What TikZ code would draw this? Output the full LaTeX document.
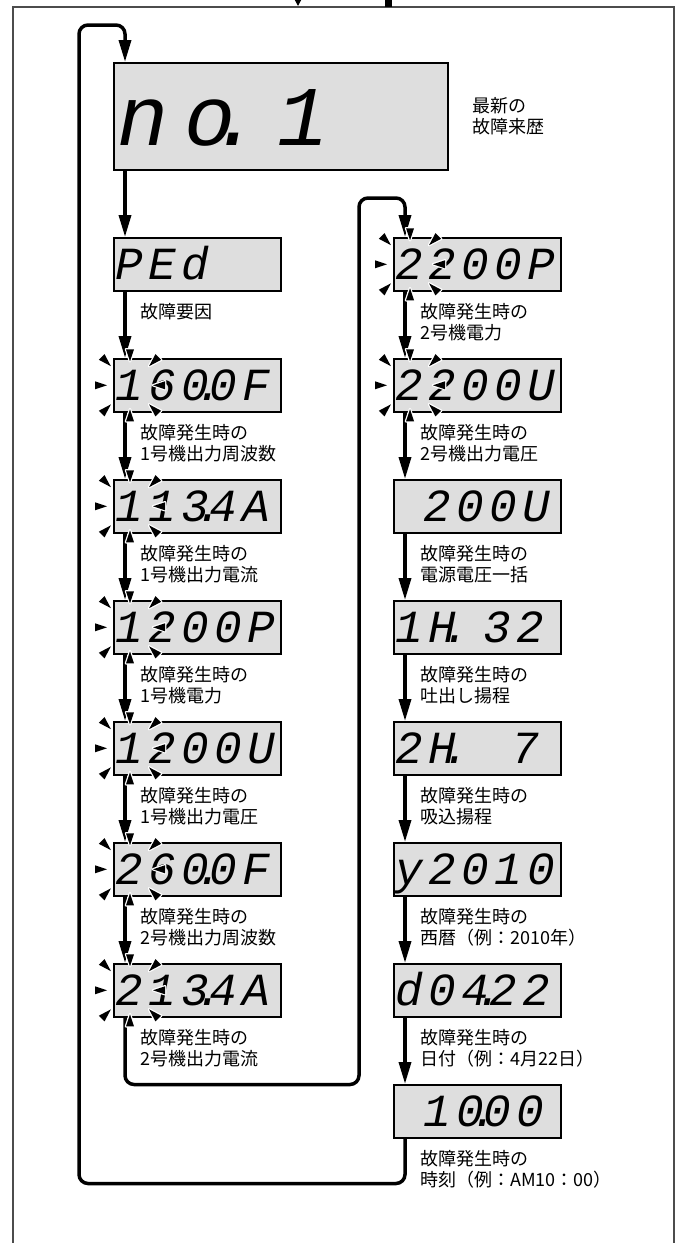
\documentclass[tikz,border=0pt]{standalone}
\usepackage{fontspec}
\setmainfont{Noto Sans CJK JP}
\newfontfamily\segfont{Liberation Mono}[LetterSpace=11.7]
\newfontfamily\bigsegfont{Liberation Mono}[LetterSpace=18.8]
\usetikzlibrary{arrows.meta,positioning,calc}
\definecolor{lcdgray}{gray}{0.87}
\definecolor{framegray}{gray}{0.3}
\newcommand\segdot{\makebox[0pt]{.}}
\newcommand\segblank{\phantom{0}}
% blinking rays round the first digit of a display
\newcommand\blinkat[1]{%
  \begin{scope}[shift={([xshift=17pt]#1.west)}]
  \foreach \a/\ri/\ro in {0/23/35,45/27/40,90/24/36,135/27/40,180/23/35,225/27/40,270/24/36,315/27/40}{
    \draw[white, line width=2.5pt, line join=round, rotate=\a] (\ri,0) -- (\ro,4) -- (\ro,-4) -- cycle;
    \fill[black, rotate=\a] (\ri,0) -- (\ro,4) -- (\ro,-4) -- cycle;}
  \end{scope}}

\begin{document}
\begin{tikzpicture}[x=1pt, y=1pt,
  disp/.style={draw, line width=1.5pt, fill=lcdgray, minimum width=167pt,
               minimum height=53pt, text width=163pt, inner xsep=2pt, inner ysep=0pt,
               align=left, text height=31pt, text depth=0pt,
               font=\segfont\itshape\fontsize{46}{46}\selectfont},
  bigdisp/.style={disp, minimum width=334pt, minimum height=107pt, text width=326pt,
                  inner xsep=4pt, text height=58pt,
                  font=\bigsegfont\itshape\fontsize{85}{85}\selectfont},
  note/.style={anchor=north west, align=left, inner sep=0pt,
               font=\fontsize{18}{21}\selectfont},
  flow/.style={line width=3.5pt, -{Triangle[length=22pt,width=12pt]}, rounded corners=9pt},
  frame/.style={draw=framegray, line width=1.2pt}]
\useasboundingbox (0,0) rectangle (682,-1243);
\draw[frame] (13,-1243) -- (13,-7) -- (674,-7) -- (674,-1243);
\coordinate (instub) at (298,0);
\coordinate (instubend) at (298,-6);
\coordinate (outstub) at (388,0);
\coordinate (outstubend) at (388,-7);
\draw[line width=1.2pt, -{Triangle[length=6pt,width=6pt]}] (instub) -- (instubend);
\draw[line width=7pt] (outstub) -- (outstubend);

\node[bigdisp, anchor=north west] (nodisp) at (113,-62) {no\segdot\hspace{42pt}1};
\node[note, right=24pt of nodisp] (nodispn) {最新の\\故障来歴};

\node[disp, anchor=north west] (ped) at (113,-237) {PEd};
\node[disp, below=66.5pt of ped] (lfreq) {160\segdot0F};
\node[disp, below=66.5pt of lfreq] (lcur) {113\segdot4A};
\node[disp, below=66.5pt of lcur] (lpow) {1200P};
\node[disp, below=66.5pt of lpow] (lvolt) {1200U};
\node[disp, below=66.5pt of lvolt] (lfreqb) {260\segdot0F};
\node[disp, below=66.5pt of lfreqb] (lcurb) {213\segdot4A};

\node[disp, right=111.5pt of ped] (rpow) {2200P};
\node[disp, below=66.5pt of rpow] (rvolt) {2200U};
\node[disp, below=66.5pt of rvolt] (rsup) {\segblank200U};
\node[disp, below=66.5pt of rsup] (rdis) {1H\segdot\segblank32};
\node[disp, below=66.5pt of rdis] (rsuc) {2H\segdot\segblank\segblank7};
\node[disp, below=66.5pt of rsuc] (ryear) {y2010};
\node[disp, below=66.5pt of ryear] (rdate) {d04\segdot22};
\node[disp, below=66.5pt of rdate] (rtime) {\segblank10\segdot00};

\node[note] (pedn) at ([xshift=27pt,yshift=-12pt]ped.south west) {故障要因};
\node[note] (lfreqn) at ([xshift=27pt,yshift=-12pt]lfreq.south west) {故障発生時の\\1号機出力周波数};
\node[note] (lcurn) at ([xshift=27pt,yshift=-12pt]lcur.south west) {故障発生時の\\1号機出力電流};
\node[note] (lpown) at ([xshift=27pt,yshift=-12pt]lpow.south west) {故障発生時の\\1号機電力};
\node[note] (lvoltn) at ([xshift=27pt,yshift=-12pt]lvolt.south west) {故障発生時の\\1号機出力電圧};
\node[note] (lfreqbn) at ([xshift=27pt,yshift=-12pt]lfreqb.south west) {故障発生時の\\2号機出力周波数};
\node[note] (lcurbn) at ([xshift=27pt,yshift=-12pt]lcurb.south west) {故障発生時の\\2号機出力電流};
\node[note] (rpown) at ([xshift=27pt,yshift=-12pt]rpow.south west) {故障発生時の\\2号機電力};
\node[note] (rvoltn) at ([xshift=27pt,yshift=-12pt]rvolt.south west) {故障発生時の\\2号機出力電圧};
\node[note] (rsupn) at ([xshift=27pt,yshift=-12pt]rsup.south west) {故障発生時の\\電源電圧一括};
\node[note] (rdisn) at ([xshift=27pt,yshift=-12pt]rdis.south west) {故障発生時の\\吐出し揚程};
\node[note] (rsucn) at ([xshift=27pt,yshift=-12pt]rsuc.south west) {故障発生時の\\吸込揚程};
\node[note] (ryearn) at ([xshift=27pt,yshift=-12pt]ryear.south west) {故障発生時の\\西暦（例：2010年）};
\node[note] (rdaten) at ([xshift=27pt,yshift=-12pt]rdate.south west) {故障発生時の\\日付（例：4月22日）};
\node[note] (rtimen) at ([xshift=27pt,yshift=-12pt]rtime.south west) {故障発生時の\\時刻（例：AM10：00）};

\draw[flow] ([xshift=12pt]nodisp.south west) -- ([xshift=12pt]ped.north west);
\draw[flow] ([xshift=12pt]ped.south west) -- ([xshift=12pt]lfreq.north west);
\draw[flow] ([xshift=12pt]lfreq.south west) -- ([xshift=12pt]lcur.north west);
\draw[flow] ([xshift=12pt]lcur.south west) -- ([xshift=12pt]lpow.north west);
\draw[flow] ([xshift=12pt]lpow.south west) -- ([xshift=12pt]lvolt.north west);
\draw[flow] ([xshift=12pt]lvolt.south west) -- ([xshift=12pt]lfreqb.north west);
\draw[flow] ([xshift=12pt]lfreqb.south west) -- ([xshift=12pt]lcurb.north west);
\draw[flow] ([xshift=12pt]rpow.south west) -- ([xshift=12pt]rvolt.north west);
\draw[flow] ([xshift=12pt]rvolt.south west) -- ([xshift=12pt]rsup.north west);
\draw[flow] ([xshift=12pt]rsup.south west) -- ([xshift=12pt]rdis.north west);
\draw[flow] ([xshift=12pt]rdis.south west) -- ([xshift=12pt]rsuc.north west);
\draw[flow] ([xshift=12pt]rsuc.south west) -- ([xshift=12pt]ryear.north west);
\draw[flow] ([xshift=12pt]ryear.south west) -- ([xshift=12pt]rdate.north west);
\draw[flow] ([xshift=12pt]rdate.south west) -- ([xshift=12pt]rtime.north west);

% loops back to the top
\coordinate (innerup) at (359,-198);
\coordinate (outerup) at (79,-25);
\draw[flow] ([xshift=12pt]lcurb.south west) -- ++(0,-67) -| (innerup)
  -- ([xshift=12pt,yshift=39pt]rpow.north west) -- ([xshift=12pt]rpow.north west);
\draw[flow] ([xshift=12pt]rtime.south west) -- ++(0,-45) -| (outerup)
  -- ([xshift=12pt,yshift=37pt]nodisp.north west) -- ([xshift=12pt]nodisp.north west);

\blinkat{lfreq}
\blinkat{lcur}
\blinkat{lpow}
\blinkat{lvolt}
\blinkat{lfreqb}
\blinkat{lcurb}
\blinkat{rpow}
\blinkat{rvolt}
\end{tikzpicture}
\end{document}
